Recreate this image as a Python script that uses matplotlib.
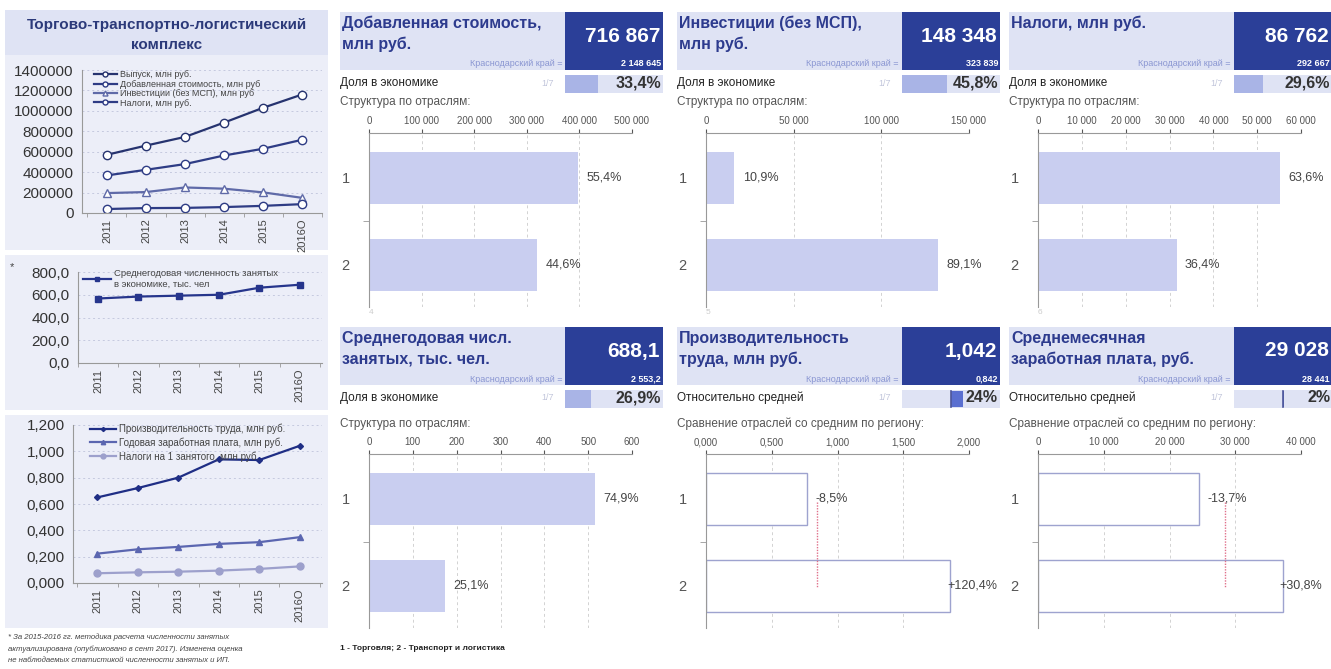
import numpy as np
import matplotlib.pyplot as plt
from matplotlib.patches import Rectangle

plt.rcParams['font.family'] = ['Liberation Sans', 'DejaVu Sans']

W, H = 1331, 669

# left panels: dynamics
years = ['2011', '2012', '2013', '2014', '2015', '2016О']
output_vals = [570000, 660000, 745000, 885000, 1030000, 1160000]
added_vals = [368000, 423000, 479000, 563000, 629000, 716867]
invest_vals = [195000, 205000, 250000, 238000, 202000, 148348]
taxes_vals = [39000, 48000, 50000, 58000, 70000, 86762]
employed_vals = [567, 584, 592, 600, 662, 688.1]
productivity_vals = [0.650, 0.721, 0.800, 0.939, 0.934, 1.042]
year_wage_vals = [0.223, 0.256, 0.274, 0.297, 0.310, 0.348]
tax_per_emp_vals = [0.074, 0.081, 0.086, 0.094, 0.107, 0.126]

# cards: 1 - trade, 2 - transport and logistics
va_bars = [397100, 319700]
va_labels = ['55,4%', '44,6%']
inv_bars = [16200, 132200]
inv_labels = ['10,9%', '89,1%']
tax_bars = [55200, 31600]
tax_labels = ['63,6%', '36,4%']
emp_bars = [515.4, 172.7]
emp_labels = ['74,9%', '25,1%']
prod_bars = [0.770, 1.856]
prod_labels = ['-8,5%', '+120,4%']
prod_region = 0.842
wage_bars = [24550, 37200]
wage_labels = ['-13,7%', '+30,8%']
wage_region = 28441

card_titles = [['Добавленная стоимость,', 'млн руб.'], ['Инвестиции (без МСП),', 'млн руб.'],
               ['Налоги, млн руб.'], ['Среднегодовая числ.', 'занятых, тыс. чел.'],
               ['Производительность', 'труда, млн руб.'], ['Среднемесячная', 'заработная плата, руб.']]
card_values = ['716 867', '148 348', '86 762', '688,1', '1,042', '29 028']
region_values = ['2 148 645', '323 839', '292 667', '2 553,2', '0,842', '28 441']
row_names = ['Доля в экономике'] * 4 + ['Относительно средней'] * 2
row_shares = [0.334, 0.458, 0.296, 0.269, 0.24, 0.02]
row_texts = ['33,4%', '45,8%', '29,6%', '26,9%', '24%', '2%']

fig = plt.figure(figsize=(W / 100, H / 100), dpi=100)
fig.patch.set_facecolor('white')

NAVY = '#2d3b8e'
LAV = '#dfe3f4'
BAR = '#c9cef0'


def box(x0, y0, x1, y1):
    return [x0 / W, 1 - y1 / H, (x1 - x0) / W, (y1 - y0) / H]


def rect(x0, y0, x1, y1, color):
    fig.add_artist(Rectangle((x0 / W, 1 - y1 / H), (x1 - x0) / W, (y1 - y0) / H,
                             transform=fig.transFigure, facecolor=color, edgecolor='none', zorder=0))


def txt(x, y, s, **kw):
    kw.setdefault('va', 'center')
    fig.text(x / W, 1 - y / H, s, **kw)


def line_axes(pos, xlim, ylim, yticks, yfmt):
    ax = fig.add_axes(box(*pos))
    ax.set_facecolor('none')
    ax.set_xlim(*xlim)
    ax.set_ylim(*ylim)
    ax.set_yticks(yticks)
    ax.set_yticklabels([yfmt(v) for v in yticks])
    ax.set_xticks(range(6))
    ax.set_xticklabels(years, rotation=90)
    ax.set_xticks(np.arange(-0.5, 6, 1), minor=True)
    ax.tick_params(axis='y', labelsize=11, colors='#333', length=0, pad=6)
    ax.tick_params(axis='x', which='major', labelsize=8, colors='#444', length=0, pad=4)
    ax.tick_params(axis='x', which='minor', length=3, color='#999')
    ax.grid(axis='y', ls=(0, (2, 3)), color='#c5c9df', lw=0.7)
    for s in ['top', 'right']:
        ax.spines[s].set_visible(False)
    ax.spines['left'].set_color('#999')
    ax.spines['bottom'].set_color('#999')
    return ax


# ---- left column ----
rect(5, 10, 328, 250, '#eceef8')
rect(5, 10, 328, 55, LAV)
txt(167, 25, 'Торгово-транспортно-логистический', ha='center', fontsize=11, fontweight='bold', color='#2c3a7a')
txt(167, 45, 'комплекс', ha='center', fontsize=11, fontweight='bold', color='#2c3a7a')

ax1 = line_axes((82, 70, 322, 213), (-0.64, 5.51), (0, 1400000),
                np.arange(0, 1400001, 200000), lambda v: str(int(v)))
ax1.plot(range(6), output_vals, color='#26336f', marker='o', ms=6, mfc='white', lw=1.6, label='Выпуск, млн руб.')
ax1.plot(range(6), added_vals, color='#2e3c85', marker='o', ms=6, mfc='white', lw=1.6,
         label='Добавленная стоимость, млн руб')
ax1.plot(range(6), invest_vals, color='#5f6aa8', marker='^', ms=6, mfc='white', lw=1.6,
         label='Инвестиции (без МСП), млн руб')
ax1.plot(range(6), taxes_vals, color='#2e3c85', marker='o', ms=6, mfc='white', lw=1.6, label='Налоги, млн руб.')
ax1.legend(loc='upper left', bbox_to_anchor=(0.03, 1.03), frameon=False, fontsize=6.5, labelspacing=0.05,
           handlelength=2.6, handletextpad=0.3, borderpad=0, markerscale=0.6, labelcolor='#444')

rect(5, 255, 328, 410, '#eceef8')
txt(10, 267, '*', fontsize=8, color='#444')
ax2 = line_axes((78, 272, 322, 363), (-0.5, 5.55), (0, 800), np.arange(0, 801, 200),
                lambda v: f'{v:.1f}'.replace('.', ','))
ax2.plot(range(6), employed_vals, color='#26358c', marker='s', ms=5, lw=1.6,
         label='Среднегодовая численность занятых\nв экономике, тыс. чел')
ax2.legend(loc='upper left', bbox_to_anchor=(0.0, 1.08), frameon=False, fontsize=6.8,
           handlelength=3, handletextpad=0.3, borderpad=0, markerscale=0.6, labelcolor='#444')

rect(5, 415, 328, 628, '#eceef8')
ax3 = line_axes((73, 425, 322, 583), (-0.6, 5.55), (0, 1.2), np.arange(0, 1.21, 0.2),
                lambda v: f'{v:.3f}'.replace('.', ','))
ax3.plot(range(6), productivity_vals, color='#1f2e85', marker='D', ms=3, lw=1.6,
         label='Производительность труда, млн руб.')
ax3.plot(range(6), year_wage_vals, color='#5b66b0', marker='^', ms=4.5, lw=1.6,
         label='Годовая заработная плата, млн руб.')
ax3.plot(range(6), tax_per_emp_vals, color='#9da0cc', marker='o', ms=5, lw=1.6,
         label='Налоги на 1 занятого, млн руб.')
ax3.legend(loc='upper left', bbox_to_anchor=(0.05, 1.04), frameon=False, fontsize=7, labelspacing=0.35,
           handlelength=2.6, handletextpad=0.3, borderpad=0, markerscale=0.7, labelcolor='#444')

foot = ['* За 2015-2016 гг. методика расчета численности занятых',
        'актуализирована (опубликовано в сент 2017). Изменена оценка',
        'не наблюдаемых статистикой численности занятых и ИП.']
for i, line in enumerate(foot):
    txt(8, 637 + i * 12, line, fontsize=5.6, style='italic', color='#444')


# ---- cards ----
def fmt_space(v):
    return f'{int(round(v)):,}'.replace(',', ' ')


def fmt_prod(v):
    return f'{v:.3f}'.replace('.', ',')


def card(i, x0, y0, struct_y, ax_y0, sub, vals, labels, xmax, step, fmt, ref=None):
    rect(x0, y0, x0 + 323, y0 + 58, LAV)
    rect(x0 + 225, y0, x0 + 323, y0 + 58, '#2b3f98')
    for k, line in enumerate(card_titles[i]):
        txt(x0 + 2, y0 + 11 + k * 21, line, fontsize=11.5, fontweight='bold', color=NAVY)
    txt(x0 + 320, y0 + 24, card_values[i], ha='right', fontsize=15, fontweight='bold', color='white')
    txt(x0 + 222, y0 + 52, 'Краснодарский край =', ha='right', fontsize=6.5, color='#8a96d2')
    txt(x0 + 321, y0 + 52, region_values[i], ha='right', fontsize=6.5, fontweight='bold', color='white')

    # row with in-cell bar
    txt(x0, y0 + 71, row_names[i], fontsize=8.5, color='#222')
    txt(x0 + 214, y0 + 71, '1/7', ha='right', fontsize=6.5, color='#c3c7dc')
    cax = fig.add_axes(box(x0 + 225, y0 + 63, x0 + 323, y0 + 81))
    cax.set_facecolor(LAV)
    cax.set_ylim(-0.5, 0.5)
    if ref is None:
        cax.set_xlim(0, 1)
        cax.barh([0], [row_shares[i]], height=1, color='#a9b4e6')
    else:
        cax.set_xlim(-1, 1)
        cax.barh([0], [row_shares[i]], height=0.9, color='#5a6fd0')
        cax.axvline(0, ymin=0.05, ymax=0.95, color='#4d5699', lw=1.2)
    cax.set_xticks([])
    cax.set_yticks([])
    for s in cax.spines.values():
        s.set_visible(False)
    txt(x0 + 321, y0 + 71, row_texts[i], ha='right', fontsize=11.5, fontweight='bold', color='#333')

    txt(x0, struct_y, sub, fontsize=8.5, color='#555')

    ax = fig.add_axes(box(x0 + 29, ax_y0, x0 + 292, ax_y0 + 174))
    ax.set_facecolor('none')
    ax.set_xlim(0, xmax)
    ax.set_ylim(1.483, -0.517)
    if ref is None:
        ax.barh([0, 1], vals, height=0.59, color=BAR, zorder=2)
    else:
        ax.barh([0, 1], vals, height=0.59, facecolor='white', edgecolor='#9ea3cf', lw=1, zorder=2)
        ax.plot([ref, ref], [0.03, 1.01], color='#e0708a', ls=(0, (1, 1)), lw=1, zorder=3)
    ticks = np.arange(0, xmax + step / 2, step)
    ax.set_xticks(ticks)
    ax.set_xticklabels([fmt(t) for t in ticks])
    ax.xaxis.tick_top()
    ax.tick_params(axis='x', labelsize=7, colors='#555', length=3, pad=2)
    ax.set_yticks([0, 1])
    ax.set_yticklabels(['1', '2'], fontsize=10.5, color='#555')
    ax.set_yticks([0.5], minor=True)
    ax.tick_params(axis='y', which='major', length=0, pad=14)
    ax.tick_params(axis='y', which='minor', length=4, color='#999')
    ax.grid(axis='x', ls=(0, (3, 3)), color='#d2d2d2', lw=0.7, zorder=0)
    for s in ['right', 'bottom']:
        ax.spines[s].set_visible(False)
    ax.spines['top'].set_color('#999')
    ax.spines['left'].set_color('#999')
    for k, (v, lab) in enumerate(zip(vals, labels)):
        off = -2 if (ref is not None and v > 0.8 * xmax) else 6
        ax.annotate(lab, (v, k), xytext=(off, 0), textcoords='offset points', va='center',
                    fontsize=9, color='#444', zorder=4)
    return ax


cols = [340, 677, 1009]
card(0, cols[0], 12, 102, 133, 'Структура по отраслям:', va_bars, va_labels, 500000, 100000, fmt_space)
card(1, cols[1], 12, 102, 133, 'Структура по отраслям:', inv_bars, inv_labels, 150000, 50000, fmt_space)
card(2, cols[2], 12, 102, 133, 'Структура по отраслям:', tax_bars, tax_labels, 60000, 10000, fmt_space)
card(3, cols[0], 327, 424, 454, 'Структура по отраслям:', emp_bars, emp_labels, 600, 100, fmt_space)
card(4, cols[1], 327, 424, 454, 'Сравнение отраслей со средним по региону:', prod_bars, prod_labels,
     2.0, 0.5, fmt_prod, ref=prod_region)
card(5, cols[2], 327, 424, 454, 'Сравнение отраслей со средним по региону:', wage_bars, wage_labels,
     40000, 10000, fmt_space, ref=wage_region)

for k, x in enumerate(cols):
    txt(x + 29, 313, str(k + 4), fontsize=6, color='#cccccc')

txt(340, 648, '1 - Торговля; 2 - Транспорт и логистика', fontsize=6, fontweight='bold', color='#222')

fig.savefig('out.png', dpi=100)
